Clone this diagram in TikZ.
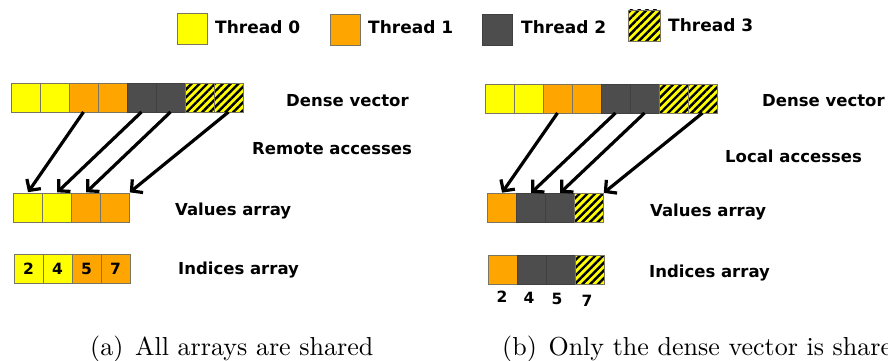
\documentclass[tikz,border=0pt]{standalone}
\usepackage{fontspec}
\setsansfont{DejaVu Sans}
\newfontfamily\fuentetitulo{lmroman10-regular}[Extension=.otf]
\usetikzlibrary{arrows.meta,patterns.meta}

\definecolor{hilo0}{HTML}{FFFF00}
\definecolor{hilo1}{HTML}{FFA500}
\definecolor{hilo2}{HTML}{4D4D4D}
\definecolor{borde}{HTML}{7A7560}

\tikzset{
  celda/.style={draw=borde, line width=0.9pt, minimum width=29pt, minimum height=29pt, inner sep=0pt, outer sep=0pt},
  h0/.style={celda, fill=hilo0},
  h1/.style={celda, fill=hilo1},
  h2/.style={celda, fill=hilo2, draw=black!75},
  h3/.style={celda, preaction={fill=hilo0}, pattern={Lines[angle=45,distance=5.5pt,line width=2.4pt]}, pattern color=black},
  etiqueta/.style={font=\sffamily\bfseries\fontsize{16.5}{18}\selectfont, inner sep=0pt, anchor=west},
  num/.style={font=\sffamily\bfseries\fontsize{15.5}{16}\selectfont, inner sep=0pt},
  leyenda/.style={font=\sffamily\bfseries\fontsize{17}{18}\selectfont, inner sep=0pt, anchor=west},
  titulo/.style={font=\fuentetitulo\fontsize{26}{30}\selectfont, inner sep=0pt, anchor=base west},
  acceso/.style={line width=3.2pt, shorten >=1pt, -{Straight Barb[length=8pt,width=17pt]}},
}

\begin{document}
\begin{tikzpicture}[x=1pt,y=-1pt]
    \useasboundingbox (0,0) rectangle (888,361);

    % Leyenda
        \node[h0, minimum width=30pt, minimum height=31pt] (leg0) at (192.5,28.5) {};
        \node[leyenda] (tleg0) at (215,27) {Thread 0};
        \node[h1, minimum width=30pt, minimum height=31pt] (leg1) at (345,29.5) {};
        \node[leyenda] (tleg1) at (368,27) {Thread 1};
        \node[h2, minimum width=30pt, minimum height=31pt] (leg2) at (497.5,29.5) {};
        \node[leyenda] (tleg2) at (521,27) {Thread 2};
        \node[h3, minimum width=32pt, minimum height=31pt] (leg3) at (644,25.5) {};
        \node[leyenda] (tleg3) at (668,25) {Thread 3};

    % (a) Vector denso
        \node[h0] (da1) at (25.5,97.5) {};
        \node[h0] (da2) at (54.5,97.5) {};
        \node[h1] (da3) at (83.5,97.5) {};
        \node[h1] (da4) at (112.5,97.5) {};
        \node[h2] (da5) at (141.5,97.5) {};
        \node[h2] (da6) at (170.5,97.5) {};
        \node[h3] (da7) at (199.5,97.5) {};
        \node[h3] (da8) at (228.5,97.5) {};
        \node[etiqueta] (tda) at (286,101) {Dense vector};

    % (a) Valores
        \node[h0] (va1) at (27.5,207.5) {};
        \node[h0] (va2) at (56.5,207.5) {};
        \node[h1] (va3) at (85.5,207.5) {};
        \node[h1] (va4) at (114.5,207.5) {};
        \node[etiqueta] (tva) at (175,211) {Values array};

    % (a) Indices
        \node[h0, num] (ia1) at (28.5,268.5) {2};
        \node[h0, num] (ia2) at (57.5,268.5) {4};
        \node[h1, num] (ia3) at (86.5,268.5) {5};
        \node[h1, num] (ia4) at (115.5,268.5) {7};
        \node[etiqueta] (tia) at (178,270) {Indices array};

    % (a) Accesos remotos
        \node[etiqueta] (tra) at (252,149) {Remote accesses};
        \draw[acceso] (da3.south) -- (va1.north);
        \draw[acceso] (da5.south) -- (va2.north);
        \draw[acceso] (da6.south) -- (va3.north);
        \draw[acceso] (da8.south) -- (va4.north east);

        \node[titulo] (capa) at (90,355) {(a)\hspace{0.45em}All arrays are shared};

    % (b) Vector denso
        \node[h0] (db1) at (499.5,98.5) {};
        \node[h0] (db2) at (528.5,98.5) {};
        \node[h1] (db3) at (557.5,98.5) {};
        \node[h1] (db4) at (586.5,98.5) {};
        \node[h2] (db5) at (615.5,98.5) {};
        \node[h2] (db6) at (644.5,98.5) {};
        \node[h3] (db7) at (673.5,98.5) {};
        \node[h3] (db8) at (702.5,98.5) {};
        \node[etiqueta] (tdb) at (762,101) {Dense vector};

    % (b) Valores
        \node[h1] (vb1) at (501.5,208) {};
        \node[h2] (vb2) at (530.5,208) {};
        \node[h2] (vb3) at (559.5,208) {};
        \node[h3] (vb4) at (588.5,208) {};
        \node[etiqueta] (tvb) at (650,212) {Values array};

    % (b) Indices
        \node[h1] (ib1) at (502.5,269.5) {};
        \node[h2] (ib2) at (531.5,269.5) {};
        \node[h2] (ib3) at (560.5,269.5) {};
        \node[h3] (ib4) at (589.5,269.5) {};
        \node[num] (nb1) at (502,297) {2};
        \node[num] (nb2) at (529,298) {4};
        \node[num] (nb3) at (557,299) {5};
        \node[num] (nb4) at (587,301) {7};
        \node[etiqueta] (tib) at (649,273) {Indices array};

    % (b) Accesos locales
        \node[etiqueta] (tlb) at (725,156) {Local accesses};
        \draw[acceso] (db3.south) -- (vb1.north);
        \draw[acceso] (db5.south) -- (vb2.north);
        \draw[acceso] (db6.south) -- (vb3.north);
        \draw[acceso] (db8.south) -- (vb4.north east);

        \node[titulo] (capb) at (502,355) {(b)\hspace{0.45em}Only the dense vector is shared};

\end{tikzpicture}
\end{document}
